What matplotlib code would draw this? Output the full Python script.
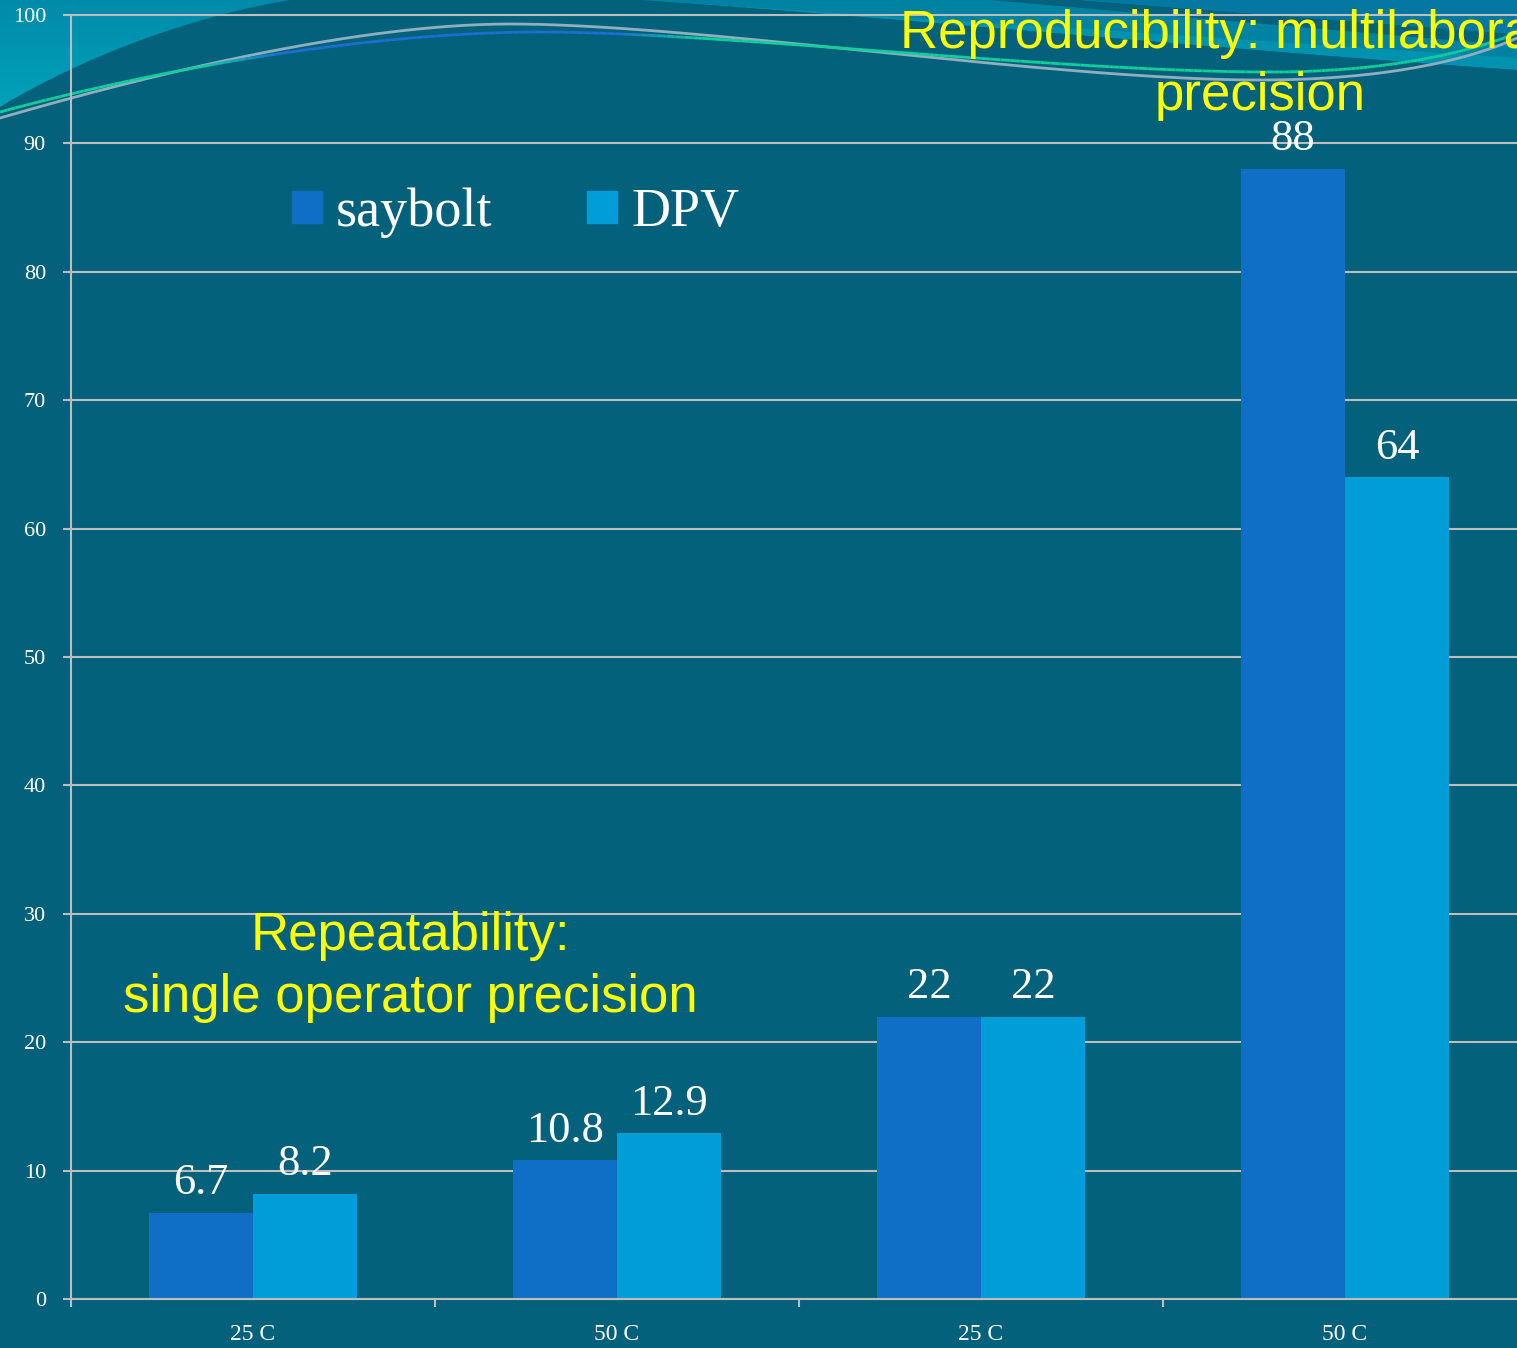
import numpy as np
import matplotlib
matplotlib.use("Agg")
import matplotlib.pyplot as plt
from matplotlib.patches import Patch, Polygon
from matplotlib.collections import LineCollection

categories = ["25 C", "50 C", "25 C", "50 C"]
saybolt = [6.7, 10.8, 22, 88]
dpv = [8.2, 12.9, 22, 64]
yticks = [0, 10, 20, 30, 40, 50, 60, 70, 80, 90, 100]

BG = "#04617B"
C_SAY = "#0F6FC6"
C_DPV = "#009DD9"
GRID = "#BDBDBD"
SERIF = "Liberation Serif"
SANS = "Liberation Sans"

W, H = 1517, 1348
fig = plt.figure(figsize=(W / 100, H / 100), dpi=100, facecolor=BG)


def bez(p0, p1, p2, p3, n=80):
    t = np.linspace(0, 1, n)[:, None]
    p0, p1, p2, p3 = (np.array(p, float) for p in (p0, p1, p2, p3))
    return (1 - t) ** 3 * p0 + 3 * (1 - t) ** 2 * t * p1 + 3 * (1 - t) * t ** 2 * p2 + t ** 3 * p3


# background decoration, drawn in pixel coords
bg = fig.add_axes([0, 0, 1, 1], zorder=0)
bg.set_xlim(0, W)
bg.set_ylim(H, 0)
bg.axis("off")

# top-left swoosh with a soft gradient
edge = bez((290, 0), (170, 20), (60, 70), (0, 107))
swoosh = Polygon(np.vstack([[(0, 0)], edge]), closed=True, facecolor="none", edgecolor="none")
bg.add_patch(swoosh)
grad = np.linspace(0, 1, 100)[:, None] * np.ones((1, 10))
img = bg.imshow(grad, extent=(0, 300, 110, 0), cmap=matplotlib.colors.LinearSegmentedColormap.from_list(
    "sw", ["#008BAA", "#00A2BA"]), aspect="auto", zorder=1)
img.set_clip_path(swoosh)

# top-right wave bands
lower = bez((640, 0), (900, 18), (1250, 52), (1517, 70))
bg.add_patch(Polygon(np.vstack([lower, [(1517, 0)]]), closed=True, facecolor="#0092AE", edgecolor="none", zorder=1))
bg.add_patch(Polygon([(640, 0), (1000, 0), (1517, 44), (1517, 58), (1100, 30), (880, 16)],
                     closed=True, facecolor="#0083A2", edgecolor="none", zorder=1))
bg.add_patch(Polygon([(990, 0), (1080, 0), (1517, 34), (1517, 46)], closed=True,
                     facecolor="#05627F", edgecolor="none", zorder=1))
bg.add_patch(Polygon([(1080, 0), (1517, 0), (1517, 34)], closed=True,
                     facecolor="#0478A2", edgecolor="none", zorder=1))
bg.add_patch(Polygon(np.vstack([lower, [(1517, 80), (640, 80)]]), closed=True,
                     facecolor=BG, edgecolor="none", zorder=1))

# thin flowing lines
gray_line = np.vstack([bez((0, 118), (200, 60), (380, 24), (510, 24)),
                       bez((510, 24), (700, 24), (1050, 80), (1260, 80)),
                       bez((1260, 80), (1400, 80), (1480, 55), (1517, 38))])
bg.plot(gray_line[:, 0], gray_line[:, 1], color="#8FAFBF", lw=2, zorder=2)

flow = np.vstack([bez((0, 112), (200, 58), (400, 32), (540, 32)),
                  bez((540, 32), (720, 32), (1060, 72), (1270, 72)),
                  bez((1270, 72), (1400, 72), (1480, 48), (1517, 33))])
segs = np.stack([flow[:-1], flow[1:]], axis=1)
mid = segs[:, :, 0].mean(axis=1)
w = np.clip((mid - 200) / 80, 0, 1) * np.clip((700 - mid) / 80, 0, 1)
green = np.array(matplotlib.colors.to_rgb("#10CF9B"))
blue = np.array(matplotlib.colors.to_rgb("#1A6FD0"))
cols = (1 - w)[:, None] * green + w[:, None] * blue
bg.add_collection(LineCollection(segs, colors=cols, linewidths=2, zorder=2))

# main chart
ax = fig.add_axes([71 / W, 49 / H, 1456 / W, 1284 / H], zorder=1)
ax.set_facecolor("none")

x = np.arange(len(categories))
bw = 0.2857
b1 = ax.bar(x - bw / 2, saybolt, bw, color=C_SAY, label="saybolt", zorder=2)
b2 = ax.bar(x + bw / 2, dpv, bw, color=C_DPV, label="DPV", zorder=2)

for bars, vals in ((b1, saybolt), (b2, dpv)):
    for rect, v in zip(bars, vals):
        ax.annotate(f"{v:g}", (rect.get_x() + rect.get_width() / 2, v),
                    xytext=(0, 7), textcoords="offset points", ha="center", va="bottom",
                    fontsize=32, color="white", family=SERIF, zorder=3)

ax.set_xlim(-0.5, len(categories) - 0.5)
ax.set_ylim(0, 100)
ax.set_yticks(yticks)
ax.set_yticklabels([str(v) for v in yticks], family=SERIF, fontsize=16, color="white")
ax.set_xticks(x)
ax.set_xticklabels(categories, family=SERIF, fontsize=17, color="white")
ax.set_xticks(np.arange(len(categories) + 1) - 0.5, minor=True)
ax.tick_params(axis="x", which="major", length=0, pad=18)
ax.tick_params(axis="x", which="minor", length=6, width=1.5, color=GRID, direction="out")
ax.tick_params(axis="y", length=6, width=1.5, color=GRID, pad=12)

ax.yaxis.grid(True, color=GRID, lw=1.5, zorder=0)
for gl in ax.get_ygridlines():
    gl.set_clip_on(False)
ax.set_axisbelow(True)
for s in ("top", "right"):
    ax.spines[s].set_visible(False)
for s in ("left", "bottom"):
    ax.spines[s].set_color(GRID)
    ax.spines[s].set_linewidth(1.5)

handles = [Patch(color=C_SAY, label="saybolt"), Patch(color=C_DPV, label="DPV")]
fig.legend(handles=handles, loc="center left", bbox_to_anchor=(292 / W, 1 - 213 / H),
           ncol=2, frameon=False, prop={"family": SERIF, "size": 39},
           labelcolor="white", handlelength=0.55, handleheight=0.55,
           handletextpad=0.26, columnspacing=1.75, borderpad=0, borderaxespad=0)

# annotations
fig.text(410 / W, 1 - 967 / H, "Repeatability:\nsingle operator precision",
         ha="center", va="center", multialignment="center", fontsize=38,
         color="#FFFF00", family=SANS, linespacing=1.33)
fig.text(1260 / W, 1 - 65 / H, "Reproducibility: multilaboratory\nprecision",
         ha="center", va="center", multialignment="center", fontsize=38,
         color="#FFFF00", family=SANS, linespacing=1.33)

fig.savefig("out.png", dpi=100, facecolor=BG)
